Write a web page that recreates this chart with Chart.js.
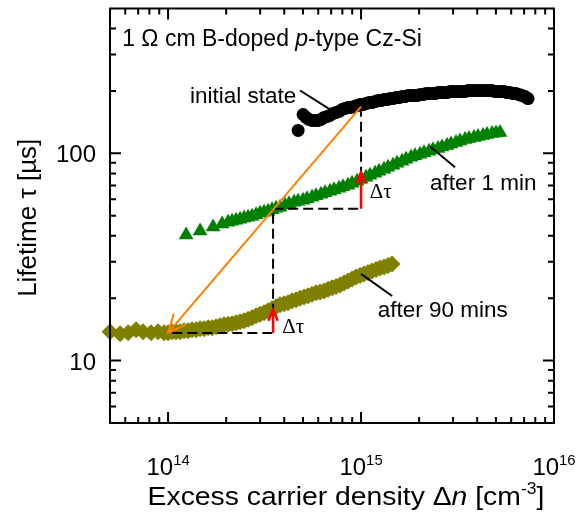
<!DOCTYPE html>
<html><head><meta charset="utf-8">
<script src="https://cdn.jsdelivr.net/npm/chart.js@4.4.1/dist/chart.umd.min.js"></script>
<style>html,body{margin:0;padding:0;background:#fff;overflow:hidden}canvas{display:block}</style>
</head><body>
<canvas id="c" width="579" height="517"></canvas>
<script>
// ---- data ----
const initialDn = [4.72e14,5.007e14,5.188e14,5.378e14,5.574e14,5.777e14,5.987e14,6.206e14,6.432e14,6.665e14,6.909e14,7.159e14,7.421e14,7.691e14,7.971e14,8.262e14,8.562e14,8.875e14,9.198e14,9.535e14,9.881e14,1.024e15,1.061e15,1.100e15,1.140e15,1.182e15,1.225e15,1.269e15,1.316e15,1.364e15,1.414e15,1.465e15,1.518e15,1.574e15,1.631e15,1.690e15,1.752e15,1.816e15,1.882e15,1.951e15,2.022e15,2.095e15,2.172e15,2.251e15,2.333e15,2.418e15,2.506e15,2.597e15,2.692e15,2.790e15,2.892e15,2.997e15,3.106e15,3.219e15,3.337e15,3.459e15,3.584e15,3.715e15,3.851e15,3.990e15,4.136e15,4.287e15,4.443e15,4.605e15,4.773e15,4.946e15,5.127e15,5.314e15,5.507e15,5.708e15,5.916e15,6.131e15,6.355e15,6.587e15,6.827e15,7.075e15,7.333e15];
const initialTau = [129.0,154.0,149.0,145.7,144.1,144.1,144.1,145.7,149.0,150.6,152.3,155.7,157.5,159.2,162.8,164.6,166.4,166.4,168.3,170.1,172.0,172.0,173.9,175.9,175.9,177.8,179.8,179.8,181.8,181.8,183.8,183.8,185.9,185.9,187.9,187.9,190.0,190.0,190.0,190.0,192.1,192.1,194.3,194.3,194.3,194.3,196.4,196.4,196.4,196.4,198.6,198.6,198.6,198.6,198.6,198.6,200.8,200.8,200.8,200.8,200.8,200.8,200.8,200.8,200.8,198.6,198.6,198.6,198.6,196.4,196.4,194.3,194.3,192.1,190.0,187.9,183.8];
const after1Dn = [1.240e14,1.465e14,1.711e14,1.905e14,2.046e14,2.146e14,2.251e14,2.361e14,2.476e14,2.597e14,2.724e14,2.858e14,2.997e14,3.144e14,3.297e14,3.459e14,3.627e14,3.804e14,4.039e14,4.236e14,4.497e14,4.716e14,5.007e14,5.251e14,5.574e14,5.846e14,6.206e14,6.509e14,6.909e14,7.246e14,7.691e14,8.066e14,8.562e14,8.982e14,9.535e14,1.000e15,1.061e15,1.113e15,1.182e15,1.240e15,1.316e15,1.380e15,1.465e15,1.537e15,1.631e15,1.711e15,1.816e15,1.905e15,2.022e15,2.121e15,2.251e15,2.361e15,2.506e15,2.628e15,2.790e15,2.926e15,3.106e15,3.258e15,3.459e15,3.627e15,3.851e15,4.039e15,4.287e15,4.497e15,4.773e15,5.007e15,5.251e15];
const after1Tau = [40.35,42.17,44.07,45.56,46.58,47.10,47.62,48.15,48.70,49.24,49.79,50.62,51.45,52.03,52.61,53.49,54.39,55.00,56.23,57.18,58.13,58.78,59.43,60.42,61.44,62.47,63.51,64.57,65.64,66.75,67.86,68.99,70.18,71.75,73.32,74.99,76.66,78.34,80.12,81.93,83.78,85.65,87.57,89.52,91.53,93.58,95.67,97.27,98.90,100.55,102.24,103.95,105.68,107.47,109.27,111.1,112.94,114.8,116.76,118.06,119.37,120.7,122.04,123.4,124.8,125.5,126.2];
const after90Dn = [5.003e13,5.641e13,6.206e13,6.826e13,7.421e13,8.164e13,8.875e13,9.534e13,1.000e14,1.049e14,1.100e14,1.154e14,1.210e14,1.269e14,1.331e14,1.397e14,1.465e14,1.537e14,1.612e14,1.690e14,1.773e14,1.860e14,1.951e14,2.046e14,2.146e14,2.251e14,2.361e14,2.476e14,2.597e14,2.724e14,2.858e14,2.997e14,3.144e14,3.297e14,3.459e14,3.627e14,3.804e14,3.990e14,4.186e14,4.390e14,4.605e14,4.830e14,5.067e14,5.314e14,5.574e14,5.846e14,6.132e14,6.432e14,6.745e14,7.075e14,7.421e14,7.784e14,8.164e14,8.562e14,8.982e14,9.421e14,9.881e14,1.036e15,1.087e15,1.140e15,1.196e15,1.254e15,1.316e15,1.380e15,1.447e15];
const after90Tau = [13.79,13.49,13.64,14.09,13.79,13.64,13.79,13.64,13.64,13.79,13.79,13.79,13.94,13.94,14.09,14.09,14.25,14.25,14.41,14.41,14.57,14.73,14.89,14.97,15.06,15.22,15.40,15.57,15.83,16.09,16.45,16.74,17.01,17.40,17.78,18.18,18.58,18.79,19.00,19.42,19.64,19.97,20.30,20.54,20.88,21.23,21.46,21.70,22.07,22.44,22.81,23.19,23.71,24.24,24.78,25.33,25.76,26.19,26.62,27.07,27.53,27.99,28.30,28.78,29.25];

const seriesNames = ['initial state','after 1 min','after 90 mins'];
const xMajorTicks = [1e14, 1e15, 1e16];
const xTickLabels = [['10','14'],['10','15'],['10','16']];
const yMajorTicks = [10, 100];
const yTickLabels = ['10','100'];
const xRange = [5e13, 1e16];
const yRange = [5, 500];

// annotation values (data coordinates)
const dnMarks = [1e14, 3.5e14, 1e15];          // dn positions of the construction
const tauMarks = [168, 54, 13.6];              // initial @1e15, green level, olive level
const deltaTips = [81, 17.6];                  // red arrow tips at 1e15 and 3.5e14
const seriesLabelPos = [[1.30e14,192],[2.28e15,72.6],[1.22e15,17.8]];
const leaders = [[[4.83e14,201],[6.9e14,163]],[[2.28e15,108],[3.07e15,85.7]],[[1.0e15,26.2],[1.45e15,20.5]]];
const deltaLabelPos = [[1.11e15,65.6],[3.9e14,14.7]];
const sampleLabelPos = [5.78e13, 361];

const SANS = '"Liberation Sans", Arial, sans-serif';
const SERIF = '"Liberation Serif", "Times New Roman", serif';

function drawRich(ctx, segs, x, y, size, align, family, sx){
  let widths = segs.map(s=>{ctx.font=(s.it?'italic ':'')+(s.sup?size*0.62:size)+'px '+family; return ctx.measureText(s.t).width;});
  let total = widths.reduce((a,b)=>a+b,0)*sx;
  let sxp = align==='center'? x-total/2 : align==='right'? x-total : x;
  ctx.save(); ctx.translate(sxp,y); ctx.scale(sx,1);
  let cx=0;
  segs.forEach((s,i)=>{ctx.font=(s.it?'italic ':'')+(s.sup?size*0.62:size)+'px '+family; ctx.fillStyle='#000'; ctx.textBaseline='alphabetic'; ctx.textAlign='left'; ctx.fillText(s.t,cx,s.sup?-size*0.42:0); cx+=widths[i];});
  ctx.restore();
}
function arrowHead(ctx,x1,y1,x2,y2,len,ang){
  const a=Math.atan2(y2-y1,x2-x1);
  ctx.beginPath();
  ctx.moveTo(x2-len*Math.cos(a-ang), y2-len*Math.sin(a-ang));
  ctx.lineTo(x2,y2);
  ctx.lineTo(x2-len*Math.cos(a+ang), y2-len*Math.sin(a+ang));
  ctx.stroke();
}

const overlay = {
  id:'overlay',
  afterDatasetsDraw(chart){
    const ctx=chart.ctx, xs=chart.scales.x, ys=chart.scales.y;
    const X=v=>xs.getPixelForValue(v), Y=v=>ys.getPixelForValue(v);
    ctx.save();
    ctx.lineCap='butt';
    ctx.strokeStyle='#000'; ctx.lineWidth=2; ctx.setLineDash([10,5]);
    ctx.beginPath();
    ctx.moveTo(X(dnMarks[2]),Y(tauMarks[0])); ctx.lineTo(X(dnMarks[2]),Y(tauMarks[1]));
    ctx.lineTo(X(dnMarks[1]),Y(tauMarks[1])); ctx.lineTo(X(dnMarks[1]),Y(tauMarks[2]));
    ctx.lineTo(X(dnMarks[0]),Y(tauMarks[2]));
    ctx.stroke();
    ctx.setLineDash([]);
    ctx.strokeStyle='#ff8000'; ctx.lineWidth=2;
    const ox1=X(dnMarks[2]), oy1=Y(tauMarks[0]), ox2=X(dnMarks[0]), oy2=Y(tauMarks[2]);
    ctx.beginPath(); ctx.moveTo(ox1,oy1); ctx.lineTo(ox2,oy2); ctx.stroke();
    arrowHead(ctx,ox1,oy1,ox2,oy2,20,0.42);
    ctx.strokeStyle='#ff0000'; ctx.lineWidth=2.5;
    [[dnMarks[2],tauMarks[1],deltaTips[0]],[dnMarks[1],tauMarks[2],deltaTips[1]]].forEach(([dx,t0,t1])=>{
      const x=X(dx);
      ctx.beginPath(); ctx.moveTo(x,Y(t0)); ctx.lineTo(x,Y(t1)+1); ctx.stroke();
      arrowHead(ctx,x,Y(t0),x,Y(t1),12,0.4);
    });
    ctx.strokeStyle='#000'; ctx.lineWidth=2;
    leaders.forEach(([a,b])=>{ctx.beginPath(); ctx.moveTo(X(a[0]),Y(a[1])); ctx.lineTo(X(b[0]),Y(b[1])); ctx.stroke();});
    seriesNames.forEach((n,i)=>{drawRich(ctx,[{t:n}],X(seriesLabelPos[i][0]),Y(seriesLabelPos[i][1])+8,22.5,'left',SANS,1);});
    deltaLabelPos.forEach(p=>{drawRich(ctx,[{t:'\u0394\u03c4'}],X(p[0]),Y(p[1])+7,21,'left',SERIF,1);});
    drawRich(ctx,[{t:'1 \u03a9 cm B-doped '},{t:'p',it:true},{t:'-type Cz-Si'}],X(sampleLabelPos[0]),Y(sampleLabelPos[1])+8,23,'left',SANS,1);
    ctx.restore();
  },
  afterDraw(chart){
    const ctx=chart.ctx, a=chart.chartArea, xs=chart.scales.x, ys=chart.scales.y;
    ctx.save();
    ctx.strokeStyle='#000'; ctx.lineWidth=2;
    ctx.strokeRect(a.left,a.top,a.right-a.left,a.bottom-a.top);
    const xt=[], yt=[];
    for(let e=13;e<=16;e++) for(let m=1;m<=9;m++){const v=m*Math.pow(10,e); if(v>xRange[0]&&v<xRange[1]) xt.push([v,m===1]);}
    for(let e=0;e<=2;e++) for(let m=1;m<=9;m++){const v=m*Math.pow(10,e); if(v>yRange[0]&&v<yRange[1]) yt.push([v,m===1]);}
    ctx.beginPath();
    xt.forEach(([v,maj])=>{const x=xs.getPixelForValue(v), L=maj?11:6; ctx.moveTo(x,a.bottom); ctx.lineTo(x,a.bottom-L); ctx.moveTo(x,a.top); ctx.lineTo(x,a.top+L);});
    yt.forEach(([v,maj])=>{const y=ys.getPixelForValue(v), L=maj?11:6; ctx.moveTo(a.left,y); ctx.lineTo(a.left+L,y); ctx.moveTo(a.right,y); ctx.lineTo(a.right-L,y);});
    ctx.stroke();
    xMajorTicks.forEach((v,i)=>{drawRich(ctx,[{t:xTickLabels[i][0]},{t:xTickLabels[i][1],sup:true}],xs.getPixelForValue(v),a.bottom+52,24,'center',SANS,1);});
    yMajorTicks.forEach((v,i)=>{drawRich(ctx,[{t:yTickLabels[i]}],a.left-14,ys.getPixelForValue(v)+9,24,'right',SANS,1);});
    drawRich(ctx,[{t:'Excess carrier density \u0394'},{t:'n',it:true},{t:' [cm'},{t:'-3',sup:true},{t:']'}],(a.left+a.right)/2+14,a.bottom+82,26,'center',SANS,1.09);
    ctx.save(); ctx.translate(27,(a.top+a.bottom)/2+2); ctx.rotate(-Math.PI/2);
    drawRich(ctx,[{t:'Lifetime \u03c4 [\u00b5s]'}],0,9,26,'center',SANS,1);
    ctx.restore();
    ctx.restore();
  }
};

const mk=(xsArr,ysArr)=>xsArr.map((x,i)=>({x,y:ysArr[i]}));
new Chart(document.getElementById('c'),{
  type:'scatter',
  data:{datasets:[
    {label:seriesNames[0],data:mk(initialDn,initialTau),pointStyle:'circle',pointRadius:6.5,pointHoverRadius:6.5,backgroundColor:'#000',borderColor:'#000',borderWidth:0,clip:false},
    {label:seriesNames[1],data:mk(after1Dn,after1Tau),pointStyle:'triangle',pointRadius:8.5,pointHoverRadius:8.5,backgroundColor:'#008000',borderColor:'#008000',borderWidth:0,clip:false},
    {label:seriesNames[2],data:mk(after90Dn,after90Tau),pointStyle:'rectRot',pointRadius:8.5,pointHoverRadius:8.5,backgroundColor:'#808000',borderColor:'#808000',borderWidth:0,clip:false}
  ]},
  options:{
    responsive:false, animation:false, devicePixelRatio:1,
    layout:{padding:{left:110,right:25,top:8,bottom:94}},
    plugins:{legend:{display:false},tooltip:{enabled:false}},
    scales:{
      x:{type:'logarithmic',min:xRange[0],max:xRange[1],display:false},
      y:{type:'logarithmic',min:yRange[0],max:yRange[1],display:false}
    }
  },
  plugins:[overlay]
});
</script>
</body></html>
